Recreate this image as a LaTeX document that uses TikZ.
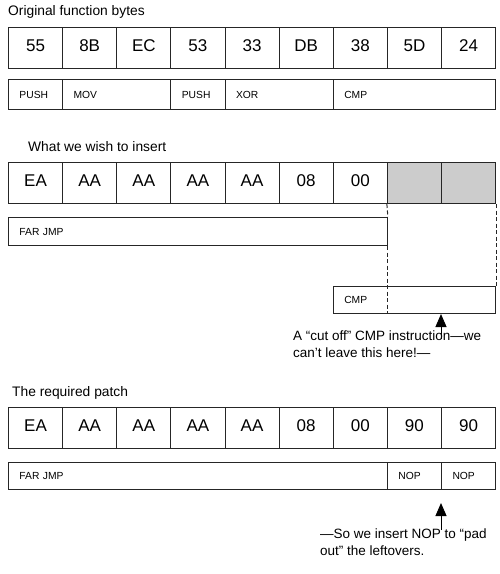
\documentclass[tikz,border=0pt]{standalone}
\usepackage{fontspec}
\setmainfont{Liberation Sans}
\usetikzlibrary{arrows.meta}
\begin{document}
\begin{tikzpicture}[x=1pt,y=-1pt,
  outline/.style={draw=black!85, line width=1pt},
  bytecell/.style={outline, rectangle, minimum width=54.125pt, minimum height=41pt,
    inner sep=0pt, anchor=north west, font=\fontsize{17}{17}\selectfont,
    text height=12.2pt, text depth=6pt},
  graycell/.style={bytecell, fill=black!20},
  bar/.style={outline, rectangle, anchor=north west, inner xsep=11pt, inner ysep=0pt,
    align=left, font=\fontsize{10.3}{10.3}\selectfont, text height=7.4pt, text depth=0pt},
  caption/.style={anchor=base west, inner sep=0pt, font=\fontsize{13.8}{17}\selectfont},
  note/.style={caption, align=left, font=\fontsize{13.5}{17}\selectfont},
  dashedline/.style={draw=black!85, line width=1pt, dash pattern=on 4pt off 2.5pt},
  pointer/.style={draw=black, line width=1pt, -{Triangle[length=13pt,width=11pt]}}
]
\useasboundingbox (0,0) rectangle (500,574);

% Section 1
\node[caption] (cap1) at (8,15) {Original function bytes};
\foreach \t [count=\i from 0] in {55,8B,EC,53,33,DB,38,5D,24}
  \node[bytecell] (r1c\i) at ({8+54.125*\i},27) {\t};
\node[bar, minimum height=30pt, text width=32.125pt] (b1push) at (8,79) {PUSH};
\node[bar, minimum height=30pt, text width=86.25pt] (b1mov) at (62.125,79) {MOV};
\node[bar, minimum height=30pt, text width=32.125pt] (b1pushb) at (170.375,79) {PUSH};
\node[bar, minimum height=30pt, text width=86.25pt] (b1xor) at (224.5,79) {XOR};
\node[bar, minimum height=30pt, text width=140.375pt] (b1cmp) at (332.75,79) {CMP};

% Section 2
\node[caption] (cap2) at (28,151) {What we wish to insert};
\foreach \t [count=\i from 0] in {EA,AA,AA,AA,AA,08,00}
  \node[bytecell] (r2c\i) at ({8+54.125*\i},162) {\t};
\node[graycell] (r2c7) at (386.875,162) {};
\node[graycell] (r2c8) at (441,162) {};
\node[bar, minimum height=28pt, text width=356.875pt] (b2far) at (8,217) {FAR JMP};
\node[bar, minimum height=27pt, text width=140.375pt] (b2cmp) at (332.75,286) {CMP};
\draw[dashedline] (r2c7.south west) -- (b2far.north east);
\draw[dashedline] (b2far.south east) -- (b2far.south east |- b2cmp.south);
\draw[dashedline] (r2c8.south east) -- (b2cmp.north east);
\coordinate (t1) at (441,339);
\draw[pointer] (t1) -- (t1 |- b2cmp.south);
\node[note] (note1) at (293,357.5) {A “cut off” CMP instruction—we\\can’t leave this here!—};

% Section 3
\node[caption] (cap3) at (12,396) {The required patch};
\foreach \t [count=\i from 0] in {EA,AA,AA,AA,AA,08,00,90,90}
  \node[bytecell] (r3c\i) at ({8+54.125*\i},407) {\t};
\node[bar, minimum height=27pt, text width=356.875pt] (b3far) at (8,462) {FAR JMP};
\node[bar, minimum height=27pt, text width=32.125pt] (b3nopa) at (386.875,462) {NOP};
\node[bar, minimum height=27pt, text width=32.125pt] (b3nopb) at (441,462) {NOP};
\coordinate (t2) at (441,530);
\coordinate (h2) at (441,503);
\draw[pointer] (t2) -- (h2);
\node[note] (note2) at (320,555) {—So we insert NOP to “pad\\out” the leftovers.};
\end{tikzpicture}
\end{document}
